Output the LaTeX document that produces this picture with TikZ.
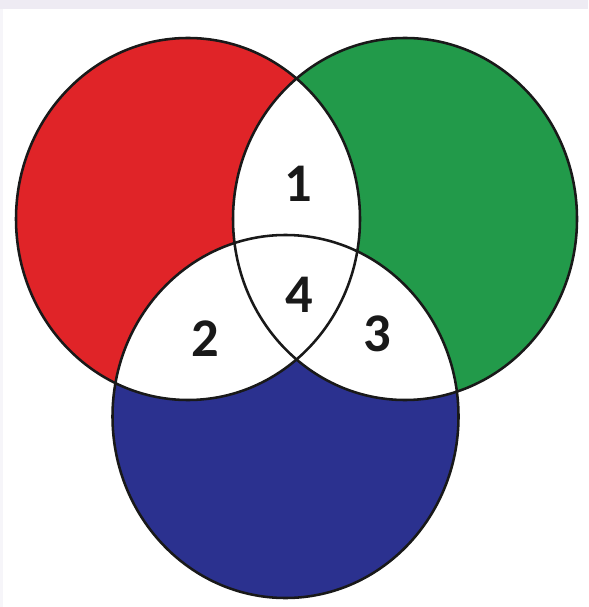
\documentclass[tikz,border=0pt]{standalone}
\usepackage{fontspec}
\setmainfont{Carlito}
\usepackage{tikz}
\pgfdeclarelayer{filllayer}
\pgfdeclarelayer{edgelayer}
\pgfsetlayers{filllayer,edgelayer,main}
\definecolor{vennred}{RGB}{224,36,40}
\definecolor{venngreen}{RGB}{34,154,74}
\definecolor{vennblue}{RGB}{43,49,143}
\definecolor{bandgray}{RGB}{238,235,243}
\tikzstyle{outline}=[draw=black!90, line width=1.45pt]
\tikzstyle{number}=[font=\fontsize{31}{31}\selectfont\bfseries, text=black!90, inner sep=0pt]

\begin{document}
\begin{tikzpicture}[x=0.02cm, y=-0.02cm]
					\useasboundingbox (0,0) rectangle (588,607);
					\fill [color=bandgray] (0,0) rectangle (588,9);
					\fill [color=bandgray!50] (0,9) rectangle (3,607);
					\begin{pgfonlayer}{filllayer}
						\fill [vennred] (188,219) ellipse [x radius=172, y radius=181];
						\fill [venngreen] (405,219) ellipse [x radius=172, y radius=181];
						\fill [vennblue] (285.5,416.5) ellipse [x radius=173, y radius=181.5];
						\begin{scope}
							\clip (188,219) ellipse [x radius=172, y radius=181];
							\fill [white] (405,219) ellipse [x radius=172, y radius=181];
							\fill [white] (285.5,416.5) ellipse [x radius=173, y radius=181.5];
						\end{scope}
						\begin{scope}
							\clip (405,219) ellipse [x radius=172, y radius=181];
							\fill [white] (285.5,416.5) ellipse [x radius=173, y radius=181.5];
						\end{scope}
					\end{pgfonlayer}
					\begin{pgfonlayer}{edgelayer}
						\draw [style=outline] (188,219) ellipse [x radius=172, y radius=181];
						\draw [style=outline] (405,219) ellipse [x radius=172, y radius=181];
						\draw [style=outline] (285.5,416.5) ellipse [x radius=173, y radius=181.5];
					\end{pgfonlayer}
					\node [style=number] (one) at (298,184) {1};
					\node [style=number] (two) at (205,339) {2};
					\node [style=number] (three) at (377,334) {3};
					\node [style=number] (four) at (299,295) {4};
				\end{tikzpicture}
\end{document}
